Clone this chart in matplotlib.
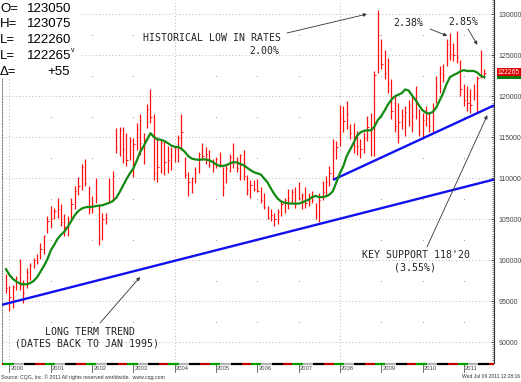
import pandas as pd
import matplotlib
matplotlib.use("Agg")
import matplotlib.pyplot as plt
from matplotlib.patches import Rectangle
from matplotlib.ticker import FuncFormatter, MultipleLocator
from matplotlib.transforms import blended_transform_factory

W, H = 521, 382

# monthly bars, Dec 1999 .. Jul 2011 (price in points)
first_month = "1999-12-01"
highs = [
    98.25,
    96.8, 97.0, 98.05, 100.1, 97.6, 99.1, 99.7, 100.3, 100.7, 102.1, 103.1, 105.4,
    106.6, 106.4, 107.6, 106.8, 105.6, 105.4, 107.6, 109.0, 110.2, 111.7, 112.3, 109.0,
    107.8, 110.0, 106.8, 105.8, 105.8, 110.0, 110.9, 116.1, 116.3, 116.3, 115.5, 115.0,
    114.9, 116.7, 117.9, 115.5, 119.1, 120.9, 117.9, 115.1, 114.7, 114.7, 114.0, 113.8,
    114.0, 115.3, 117.9, 112.6, 110.8, 110.2, 111.4, 113.2, 114.3, 113.8, 113.4, 112.4,
    112.6, 113.2, 111.4, 111.6, 113.0, 114.3, 112.6, 113.0, 113.4, 110.4, 109.8, 109.8,
    109.9, 108.9, 108.25, 106.6, 106.2, 105.8, 106.2, 107.2, 107.6, 108.7, 108.7, 108.9,
    109.5, 108.25, 108.9, 108.25, 108.5, 107.0, 108.25, 109.7, 110.3, 111.5, 114.8, 114.55,
    119.0, 118.8, 119.4, 116.6, 116.8, 115.8, 114.8, 115.6, 117.6, 118.0, 123.1, 130.6,
    127.0, 125.7, 124.7, 122.1, 120.0, 119.2, 118.4, 118.8, 119.6, 120.0, 121.3, 118.4,
    118.0, 118.8, 118.0, 119.2, 122.5, 123.7, 123.9, 127.0, 127.8, 126.5, 128.0, 124.5,
    121.5, 121.3, 120.9, 121.5, 122.5, 125.7, 123.3,
]
lows = [
    96.0,
    93.8, 94.2, 96.4, 96.4, 94.8, 96.6, 97.6, 99.1, 99.5, 100.1, 100.7, 103.3,
    103.9, 105.0, 105.2, 104.2, 102.9, 102.9, 105.0, 106.2, 108.0, 108.6, 109.0, 105.6,
    105.8, 107.0, 101.9, 102.5, 104.4, 107.0, 107.2, 113.1, 112.7, 111.9, 111.5, 112.2,
    110.2, 113.4, 112.8, 111.8, 116.1, 116.7, 109.8, 109.6, 110.6, 110.4, 110.6, 111.0,
    112.0, 112.0, 113.4, 110.0, 107.8, 108.2, 109.4, 110.6, 112.2, 111.8, 111.4, 110.8,
    111.2, 111.4, 107.8, 109.4, 110.8, 111.2, 110.8, 109.8, 109.8, 108.0, 107.6, 108.4,
    108.3, 107.0, 106.2, 105.0, 104.8, 104.2, 104.4, 105.4, 105.8, 106.2, 107.0, 106.4,
    107.4, 106.2, 106.4, 106.6, 107.0, 105.0, 104.6, 107.4, 107.8, 109.1, 109.9, 112.3,
    113.9, 115.6, 116.0, 114.8, 113.1, 112.8, 112.5, 113.1, 114.6, 112.7, 112.7, 122.9,
    123.3, 122.1, 120.4, 117.2, 115.6, 114.3, 116.0, 115.2, 116.4, 115.6, 117.2, 115.2,
    114.8, 116.4, 115.6, 115.6, 119.2, 120.4, 121.7, 123.7, 124.5, 124.3, 124.1, 120.0,
    118.8, 118.2, 118.0, 119.6, 118.0, 122.3, 122.3,
]
closes = [
    96.6,
    95.5, 96.7, 97.8, 97.0, 96.0, 98.5, 99.4, 100.0, 99.8, 101.4, 103.0, 104.8,
    105.2, 106.0, 106.2, 104.6, 104.1, 104.5, 106.8, 108.5, 109.0, 111.4, 109.4, 106.2,
    106.9, 107.6, 102.7, 105.0, 105.2, 107.8, 110.3, 113.8, 115.9, 113.6, 112.2, 114.6,
    114.2, 116.0, 114.3, 114.8, 118.5, 117.5, 110.6, 111.4, 114.3, 112.0, 112.2, 112.8,
    113.6, 114.9, 115.6, 110.4, 109.5, 110.0, 110.7, 113.0, 112.7, 113.0, 111.6, 112.0,
    112.3, 111.7, 108.9, 111.3, 112.6, 112.0, 111.2, 112.8, 110.3, 108.6, 109.2, 108.7,
    108.4, 107.4, 106.5, 105.2, 105.5, 105.0, 105.9, 106.9, 107.3, 107.6, 108.3, 107.0,
    107.6, 107.9, 107.0, 107.2, 107.3, 105.6, 107.4, 108.3, 109.5, 110.7, 113.4, 113.8,
    117.4, 117.0, 117.8, 115.5, 114.0, 114.0, 113.6, 114.9, 116.2, 115.9, 122.6, 127.5,
    124.0, 122.8, 121.5, 118.2, 116.4, 116.9, 117.6, 118.1, 118.9, 117.6, 118.6, 115.7,
    117.1, 117.4, 116.4, 118.6, 121.3, 122.8, 122.6, 126.4, 125.2, 125.0, 124.8, 120.9,
    119.5, 119.2, 119.0, 120.3, 122.3, 122.5, 122.8,
]
moving_avg = [
    98.9,
    98.2, 97.7, 97.4, 97.15, 97.05, 97.05, 97.2, 97.45, 97.9, 98.6, 99.3, 100.1,
    101.2, 101.9, 102.6, 103.1, 103.5, 104.1, 104.8, 105.5, 106.0, 106.3, 106.45, 106.5,
    106.5, 106.6, 106.65, 106.7, 106.85, 107.0, 107.2, 107.6, 108.3, 109.1, 109.9, 110.6,
    111.2, 112.2, 113.2, 113.9, 114.7, 115.5, 115.05, 114.75, 114.7, 114.55, 114.3, 114.0,
    113.85, 113.8, 113.6, 113.2, 112.7, 112.4, 112.3, 112.25, 112.3, 112.3, 112.2, 112.0,
    111.7, 111.5, 111.5, 111.6, 111.8, 111.95, 111.95, 111.75, 111.6, 111.3, 111.0, 110.75,
    110.6, 110.45, 110.0, 109.5, 108.75, 108.05, 107.5, 107.15, 107.0, 106.95, 106.9, 106.9,
    106.9, 107.05, 107.2, 107.4, 107.7, 107.85, 107.7, 107.7, 107.8, 108.0, 108.45, 109.5,
    110.6, 111.5, 112.7, 113.5, 114.3, 115.2, 115.6, 115.8, 115.85, 115.85, 116.3, 117.1,
    117.6, 118.3, 119.0, 119.6, 120.0, 120.2, 120.4, 120.85, 120.7, 120.1, 119.55, 118.9,
    118.3, 118.0, 117.9, 118.1, 118.6, 119.5, 120.35, 121.5, 122.35, 122.6, 122.8, 123.05,
    123.2, 123.1, 123.1, 123.1, 122.9, 122.5, 122.35,
]

long_trend_dates = ["1999-10-27", "2011-09-25"]
long_trend_values = [94.55, 109.85]
support_dates = ["2007-11-01", "2011-09-25"]
support_values = [109.8, 118.9]

years = list(range(2000, 2012))
price_levels = [90, 95, 100, 105, 110, 115, 120, 125, 130]

quote_names = ["O=", "H=", "L=", "L=", "\u0394="]
quote_values = ["123050", "123075", "122260", "122265", "+55"]
last_price = "122265"

source_note = "Source: CQG, Inc. \u00a9 2011 All rights reserved worldwide.  www.cqg.com"
stamp = "Wed Jul 06 2011 12:28:16"

plt.rcParams["font.family"] = ["Liberation Sans", "DejaVu Sans"]
MONO = "DejaVu Sans Mono"


def fpos(x, y):
    # pixel position in the 521x382 picture -> figure fraction
    return x / W, 1 - y / H


def main():
    dates = pd.date_range(first_month, periods=len(highs), freq="MS")
    left, right = pd.Timestamp("1999-10-27"), pd.Timestamp("2011-09-25")

    fig = plt.figure(figsize=(W / 100, H / 100), dpi=100)
    ax = fig.add_axes([2 / W, 19 / H, 492 / W, 363 / H])
    ax.set_xlim(left, right)
    ax.set_ylim(87.44, 131.77)

    # grid
    for lv in price_levels:
        ax.axhline(lv, color="#a0a0a0", lw=0.6, ls=(0, (1, 3)), zorder=0.5)
    for yr in years:
        d = pd.Timestamp(f"{yr}-01-01")
        if yr % 4 == 0:
            ax.axvline(d, color="#a0a0a0", lw=0.6, ls=(0, (1, 3)), zorder=0.5)
        else:
            half = [lv + 2.5 for lv in price_levels[:-1]]
            ax.plot([d] * len(half), half, ls="none", marker="s", ms=0.8,
                    color="#a8a8a8", mew=0, zorder=0.5)

    # monthly bars
    ax.vlines(dates, lows, highs, color="#ff1010", lw=0.9, zorder=2)
    ax.hlines(closes, dates, dates + pd.Timedelta(days=11), color="#ff1010",
              lw=0.7, zorder=2)

    # trend lines
    ax.plot(pd.to_datetime(long_trend_dates), long_trend_values, color="#1010f0",
            lw=1.7, zorder=3, solid_capstyle="butt")
    ax.plot(pd.to_datetime(support_dates), support_values, color="#1010f0",
            lw=1.7, zorder=3, solid_capstyle="butt")

    # moving average
    ax.plot(dates, moving_avg, color="#108a10", lw=1.6, zorder=4)

    # axes look
    ax.spines["top"].set_visible(False)
    ax.spines["bottom"].set_visible(False)
    ax.spines["left"].set_color("#808080")
    ax.spines["left"].set_linestyle((0, (1, 1.5)))
    ax.spines["left"].set_linewidth(0.8)
    ax.spines["right"].set_color("#333333")
    ax.spines["right"].set_linewidth(0.8)
    ax.yaxis.tick_right()
    ax.set_yticks(price_levels)
    ax.yaxis.set_major_formatter(FuncFormatter(lambda v, p: f"{v:.0f}000"))
    ax.yaxis.set_minor_locator(MultipleLocator(0.25))
    ax.tick_params(axis="y", which="major", direction="in", length=2.5, width=0.6,
                   color="#333333", labelsize=5, labelcolor="#444444", pad=3)
    ax.tick_params(axis="y", which="minor", direction="in", length=1.2, width=0.5,
                   color="#555555")
    ax.set_xticks([])

    # bottom time strip and year labels
    tb = blended_transform_factory(ax.transData, ax.transAxes)
    parts = [(-0.15, 0.10, "#00a000"), (0.10, 0.35, "#b4b4b4"),
             (0.35, 0.62, "#000000"), (0.62, 0.85, "#c00000")]
    for yr in range(1999, 2013):
        base = pd.Timestamp(f"{yr}-01-01")
        for a, b, c in parts:
            da = max(base + pd.Timedelta(days=a * 365.25), left)
            db = min(base + pd.Timedelta(days=b * 365.25), right)
            if da >= db:
                continue
            ax.plot([da, db], [-0.004, -0.004], transform=tb, color=c, lw=1.6,
                    solid_capstyle="butt", clip_on=False, zorder=5)
    for yr in years:
        d = pd.Timestamp(f"{yr}-01-01")
        ax.plot([d, d], [-0.004, -0.025], transform=tb, color="#555555", lw=0.6,
                clip_on=False)
        ax.text(d + pd.Timedelta(days=10), -0.014, str(yr), transform=tb,
                fontsize=4.2, color="#444444", ha="left", va="center")

    # annotations
    arrow = dict(arrowstyle="-|>", color="#333333", lw=0.6, mutation_scale=5,
                 shrinkA=0, shrinkB=0)
    tips = [
        (("2008-08-27", 130.05), (287, 33)),
        (("2010-08-07", 127.4), (430, 29)),
        (("2011-05-01", 126.3), (468, 29)),
        (("2011-07-28", 117.7), (427, 247)),
        (("2003-03-01", 97.94), (100, 323)),
    ]
    for (d, v), tail in tips:
        ax.annotate("", xy=(pd.Timestamp(d), v), xycoords="data",
                    xytext=fpos(*tail), textcoords="figure fraction",
                    arrowprops=arrow, zorder=6, annotation_clip=False)

    notes = [
        ("HISTORICAL LOW IN RATES", 212, 38),
        ("2.00%", 264, 51),
        ("2.38%", 408, 23),
        ("2.85%", 463, 22),
        ("KEY SUPPORT 118'20", 416, 255),
        ("(3.55%)", 415, 267),
        ("LONG TERM TREND", 90, 332),
        ("(DATES BACK TO JAN 1995)", 87, 344),
    ]
    for txt, x, y in notes:
        fig.text(*fpos(x, y), txt, family=MONO, fontsize=7.1, color="#222222",
                 ha="center", va="center")

    # quote box, top left
    fig.add_artist(Rectangle(fpos(0, 78), 81 / W, 78 / H, transform=fig.transFigure,
                             facecolor="white", edgecolor="none", zorder=3))
    for i, (name, val) in enumerate(zip(quote_names, quote_values)):
        y = 8.5 + 15.8 * i
        fig.text(*fpos(0, y), name, fontsize=9.5, ha="left", va="center", zorder=4)
        if val.startswith("+"):
            fig.text(*fpos(70, y), val, fontsize=9.5, ha="right", va="center", zorder=4)
        else:
            fig.text(*fpos(27, y), val, fontsize=9.5, ha="left", va="center", zorder=4)
    fig.text(*fpos(71, 50), "v", fontsize=5, ha="left", va="center", zorder=4)

    # last price tag on the price scale
    fig.add_artist(Rectangle(fpos(497, 79), 24 / W, 4 / H, transform=fig.transFigure,
                             facecolor="#0a7a0a", edgecolor="none", zorder=3))
    fig.add_artist(Rectangle(fpos(497, 75.5), 24 / W, 7 / H, transform=fig.transFigure,
                             facecolor="#e00000", edgecolor="none", zorder=4))
    fig.text(*fpos(509, 72), last_price, fontsize=4.8, color="white",
             ha="center", va="center", zorder=5)

    # footer
    fig.text(*fpos(1, 377), source_note, fontsize=3.7, color="#333333",
             ha="left", va="center")
    fig.text(*fpos(520, 377), stamp, fontsize=3.6, color="#333333",
             ha="right", va="center")

    fig.savefig("out.png", dpi=100)


if __name__ == "__main__":
    main()
